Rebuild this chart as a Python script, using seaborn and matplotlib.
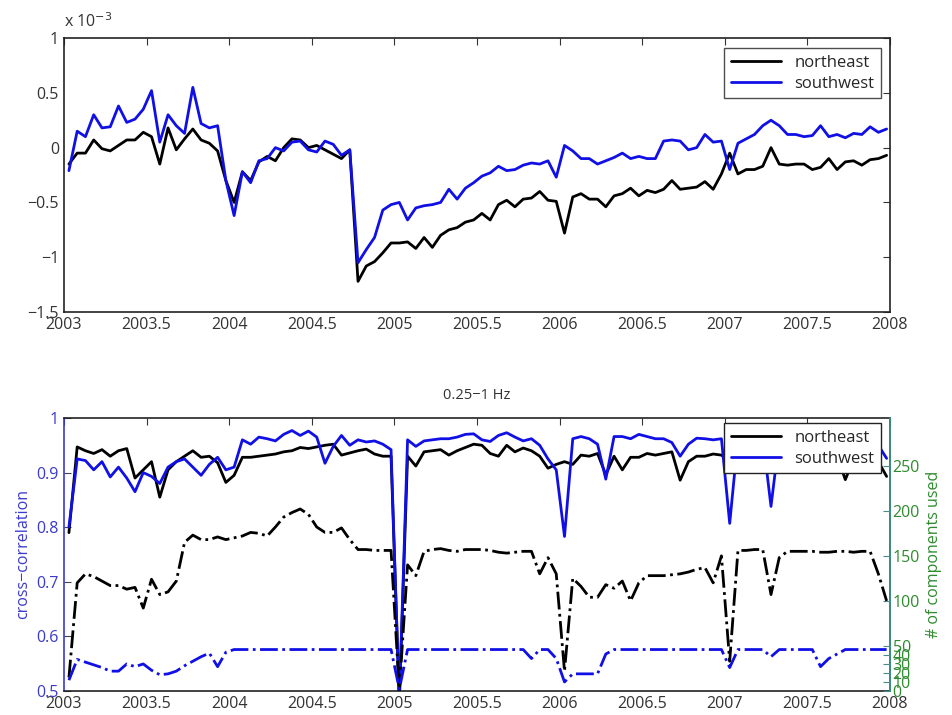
import numpy as np
import matplotlib
matplotlib.use("Agg")
import matplotlib.pyplot as plt
from matplotlib.ticker import FuncFormatter
import seaborn as sns

# ---- data (20 samples / year starting 2003.03) ----
t_start = 2003.03
t_step = 0.05

# top panel, x 10^-3
ne_top = [-0.15, -0.05, -0.05, 0.07, -0.01, -0.03, 0.02, 0.07, 0.07, 0.14,
          0.10, -0.15, 0.18, -0.02, 0.08, 0.17, 0.07, 0.04, -0.03, -0.30,
          -0.50, -0.22, -0.30, -0.13, -0.08, -0.12, 0.00, 0.08, 0.07, 0.00,
          0.02, -0.02, -0.06, -0.10, -0.02, -1.22, -1.08, -1.04, -0.96, -0.87,
          -0.87, -0.86, -0.92, -0.82, -0.91, -0.80, -0.75, -0.73, -0.68, -0.66,
          -0.60, -0.66, -0.52, -0.48, -0.54, -0.47, -0.46, -0.40, -0.48, -0.49,
          -0.78, -0.45, -0.42, -0.47, -0.47, -0.54, -0.44, -0.42, -0.37, -0.44,
          -0.39, -0.41, -0.38, -0.30, -0.38, -0.37, -0.36, -0.31, -0.38, -0.24,
          -0.05, -0.24, -0.20, -0.20, -0.17, 0.00, -0.15, -0.16, -0.15, -0.15,
          -0.20, -0.18, -0.10, -0.20, -0.13, -0.12, -0.16, -0.11, -0.10, -0.07]
sw_top = [-0.21, 0.15, 0.10, 0.30, 0.18, 0.19, 0.38, 0.23, 0.26, 0.35,
          0.52, 0.05, 0.30, 0.20, 0.13, 0.55, 0.22, 0.18, 0.20, -0.30,
          -0.62, -0.22, -0.32, -0.12, -0.10, 0.00, -0.03, 0.05, 0.06, -0.02,
          -0.04, 0.06, 0.03, -0.07, -0.02, -1.05, -0.93, -0.82, -0.57, -0.52,
          -0.50, -0.66, -0.55, -0.53, -0.52, -0.50, -0.38, -0.47, -0.37, -0.32,
          -0.26, -0.23, -0.17, -0.21, -0.20, -0.16, -0.14, -0.15, -0.12, -0.27,
          0.02, -0.03, -0.10, -0.10, -0.15, -0.12, -0.09, -0.05, -0.10, -0.08,
          -0.10, -0.10, 0.06, 0.07, 0.06, -0.02, 0.00, 0.12, 0.05, 0.06,
          -0.20, 0.04, 0.08, 0.12, 0.20, 0.25, 0.20, 0.12, 0.12, 0.10,
          0.11, 0.20, 0.10, 0.12, 0.09, 0.13, 0.12, 0.19, 0.14, 0.17]

# bottom panel, cross-correlation (left axis)
ne_cc = [0.790, 0.947, 0.940, 0.935, 0.942, 0.930, 0.940, 0.944, 0.890, 0.905,
         0.920, 0.855, 0.905, 0.920, 0.930, 0.940, 0.928, 0.930, 0.918, 0.882,
         0.895, 0.928, 0.928, 0.930, 0.932, 0.934, 0.938, 0.940, 0.946, 0.944,
         0.947, 0.950, 0.952, 0.932, 0.936, 0.940, 0.943, 0.934, 0.930, 0.930,
         0.480, 0.930, 0.912, 0.938, 0.940, 0.942, 0.932, 0.940, 0.946, 0.952,
         0.950, 0.935, 0.930, 0.950, 0.938, 0.945, 0.940, 0.930, 0.908, 0.915,
         0.920, 0.915, 0.932, 0.930, 0.935, 0.896, 0.930, 0.905, 0.928, 0.928,
         0.935, 0.932, 0.935, 0.938, 0.886, 0.920, 0.930, 0.930, 0.934, 0.932,
         0.920, 0.925, 0.930, 0.928, 0.930, 0.932, 0.930, 0.925, 0.928, 0.930,
         0.926, 0.928, 0.930, 0.930, 0.887, 0.925, 0.928, 0.930, 0.920, 0.893]
sw_cc = [0.800, 0.925, 0.922, 0.905, 0.920, 0.892, 0.910, 0.890, 0.865, 0.900,
         0.893, 0.880, 0.910, 0.920, 0.925, 0.910, 0.895, 0.915, 0.928, 0.905,
         0.910, 0.960, 0.952, 0.965, 0.962, 0.958, 0.970, 0.977, 0.968, 0.976,
         0.965, 0.917, 0.948, 0.968, 0.950, 0.960, 0.956, 0.958, 0.952, 0.942,
         0.480, 0.960, 0.948, 0.958, 0.960, 0.962, 0.962, 0.965, 0.970, 0.971,
         0.960, 0.957, 0.968, 0.973, 0.965, 0.958, 0.962, 0.950, 0.925, 0.905,
         0.783, 0.962, 0.966, 0.962, 0.952, 0.888, 0.966, 0.966, 0.962, 0.970,
         0.966, 0.962, 0.962, 0.955, 0.930, 0.952, 0.963, 0.962, 0.960, 0.962,
         0.807, 0.962, 0.965, 0.962, 0.965, 0.838, 0.962, 0.966, 0.960, 0.964,
         0.962, 0.958, 0.962, 0.965, 0.960, 0.962, 0.960, 0.955, 0.950, 0.926]

# bottom panel, number of components (right axis)
ne_n = [15, 120, 130, 127, 122, 117, 117, 113, 115, 92,
        124, 107, 110, 122, 165, 173, 168, 168, 171, 168,
        170, 172, 176, 175, 172, 182, 193, 198, 202, 196,
        182, 176, 176, 181, 168, 157, 157, 156, 156, 156,
        0, 140, 128, 155, 157, 158, 156, 155, 157, 157,
        157, 156, 154, 153, 154, 155, 155, 130, 148, 130,
        22, 125, 116, 104, 104, 118, 114, 122, 100, 120,
        128, 128, 128, 129, 130, 132, 135, 137, 120, 150,
        33, 156, 156, 157, 157, 107, 148, 155, 155, 155,
        155, 154, 154, 155, 155, 154, 155, 155, 130, 100]
sw_n = [12, 35, 32, 29, 26, 22, 22, 30, 27, 30,
        23, 18, 19, 22, 28, 33, 38, 42, 27, 43,
        46, 46, 46, 46, 46, 46, 46, 46, 46, 46,
        46, 46, 46, 46, 46, 46, 46, 46, 46, 46,
        2, 46, 46, 46, 46, 46, 46, 46, 46, 46,
        46, 46, 46, 46, 46, 46, 36, 46, 46, 36,
        10, 19, 19, 19, 19, 41, 46, 46, 46, 46,
        46, 46, 46, 46, 46, 46, 46, 46, 46, 46,
        26, 46, 46, 46, 46, 38, 46, 46, 46, 46,
        46, 27, 36, 41, 46, 46, 46, 46, 46, 46]

t = t_start + t_step * np.arange(len(ne_top))

year_ticks = [2003, 2003.5, 2004, 2004.5, 2005, 2005.5, 2006, 2006.5, 2007, 2007.5, 2008]
top_yticks = [-1.5, -1, -0.5, 0, 0.5, 1]
cc_yticks = [0.5, 0.6, 0.7, 0.8, 0.9, 1]
n_yticks = [0, 10, 20, 30, 40, 50, 100, 150, 200, 250]

BLUE = '#1010e6'
LBLUE = '#3a3ad0'
GREEN = '#2e8b2e'
FS = 11.5

sns.set_style('white')
plt.rcParams['font.family'] = ['Open Sans', 'DejaVu Sans']
plt.rcParams['axes.unicode_minus'] = True

fmt = FuncFormatter(lambda v, p: ('%g' % v).replace('-', '\u2212'))

fig = plt.figure(figsize=(9.52, 7.15), dpi=100)
ax1 = fig.add_axes([0.0672, 0.5636, 0.8676, 0.3832])
ax2 = fig.add_axes([0.0672, 0.0336, 0.8676, 0.3818])

# ---------------- top panel ----------------
sns.lineplot(x=t, y=ne_top, ax=ax1, color='black', linewidth=2, label='northeast')
sns.lineplot(x=t, y=sw_top, ax=ax1, color=BLUE, linewidth=2, label='southwest')
ax1.set_xlim(2003, 2008)
ax1.set_ylim(-1.5, 1)
ax1.set_xticks(year_ticks)
ax1.set_yticks(top_yticks)
ax1.xaxis.set_major_formatter(fmt)
ax1.yaxis.set_major_formatter(fmt)
ax1.tick_params(direction='in', top=True, right=True, length=5, labelsize=FS,
                colors='#333333')
for s in ax1.spines.values():
    s.set_color('#222222')
    s.set_linewidth(1.2)
ax1.text(0.0, 1.025, r'x 10$^{-3}$', transform=ax1.transAxes, fontsize=FS,
         ha='left', va='bottom', color='#333333')
leg = ax1.legend(loc='upper right', bbox_to_anchor=(0.989, 0.9635), borderaxespad=0,
                 fontsize=12, frameon=True, fancybox=False, handlelength=3.0,
                 borderpad=0.4, labelspacing=0.3)
leg.get_frame().set_edgecolor('#222222')
leg.get_frame().set_linewidth(1.0)

# ---------------- bottom panel ----------------
sns.lineplot(x=t, y=ne_cc, ax=ax2, color='black', linewidth=2, label='northeast')
sns.lineplot(x=t, y=sw_cc, ax=ax2, color=BLUE, linewidth=2, label='southwest')
ax2.set_xlim(2003, 2008)
ax2.set_ylim(0.5, 1)
ax2.set_xticks(year_ticks)
ax2.set_yticks(cc_yticks)
ax2.xaxis.set_major_formatter(fmt)
ax2.yaxis.set_major_formatter(fmt)
ax2.tick_params(direction='in', top=True, right=True, length=5, labelsize=FS)
ax2.tick_params(axis='x', colors='#333333')
ax2.tick_params(axis='y', labelcolor=LBLUE, color='#444444')
ax2.set_ylabel('cross\u2212correlation', color=LBLUE, fontsize=FS, labelpad=4)
ax2.set_title('0.25\u22121 Hz', fontsize=10.5, color='#333333', pad=14)
for s in ax2.spines.values():
    s.set_color('#222222')
    s.set_linewidth(1.2)
ax2.spines['left'].set_color(LBLUE)
ax2.get_legend().remove()

ax3 = ax2.twinx()
sns.lineplot(x=t, y=ne_n, ax=ax3, color='black', linewidth=2, linestyle='-.')
sns.lineplot(x=t, y=sw_n, ax=ax3, color=BLUE, linewidth=2, linestyle='-.')
ax3.set_ylim(0, 303)
ax3.set_yticks(n_yticks)
ax3.tick_params(direction='in', length=5, labelsize=FS, labelcolor=GREEN,
                color='#4a8a8a', pad=2)
ax3.set_ylabel('# of components used', color=GREEN, fontsize=FS, labelpad=4)
for side in ['top', 'bottom', 'left']:
    ax3.spines[side].set_visible(False)
ax3.spines['right'].set_color('#3a9a8a')
ax3.spines['right'].set_linewidth(1.2)

h, l = ax2.get_legend_handles_labels()
leg2 = ax3.legend(h, l, loc='upper right', bbox_to_anchor=(0.989, 0.982), borderaxespad=0,
                  fontsize=12, frameon=True, fancybox=False, handlelength=3.0,
                  borderpad=0.4, labelspacing=0.3, framealpha=1)
leg2.get_frame().set_edgecolor('#222222')
leg2.get_frame().set_linewidth(1.0)

fig.savefig('out.png', dpi=100)
